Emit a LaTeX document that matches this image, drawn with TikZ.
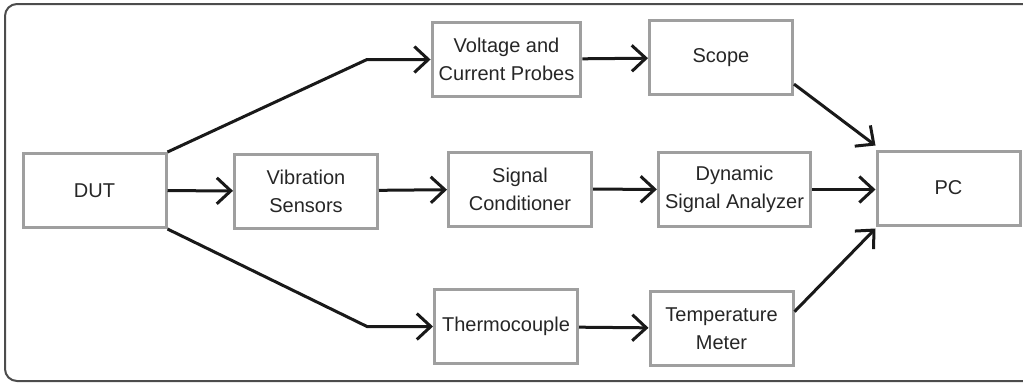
\documentclass[tikz,border=0pt]{standalone}
\usepackage{fontspec}
\setmainfont{Liberation Sans}
\usetikzlibrary{arrows.meta,calc}

\begin{document}
\begin{tikzpicture}[x=0.5pt,y=-0.5pt,
  block/.style={draw=gray!75,line width=1.5pt,minimum width=71.5pt,minimum height=37pt,
    align=center,font=\fontsize{10}{14}\selectfont,text=black!85},
  flow/.style={-{Straight Barb[length=7pt,width=13pt]},line width=1.5pt,black!90},
  frame/.style={draw=black!70,line width=1pt,rounded corners=6pt}
]
\useasboundingbox (0,0) rectangle (1023,382);
% Outer frame (right edge runs off the page)
\draw[frame] (1040,4) -- (5,4) -- (5,381) -- (1040,381);

% Blocks
\node[block] (dut)    at (94.5,190.5) {DUT};
\node[block] (vib)    at (306,191)    {Vibration\\Sensors};
\node[block] (probes) at (506.5,59.5) {Voltage and\\Current Probes};
\node[block] (scope)  at (721,57.5)   {Scope};
\node[block] (cond)   at (520,189)    {Signal\\Conditioner};
\node[block] (dsa)    at (734.5,189.5){Dynamic\\Signal Analyzer};
\node[block] (pc)     at (948.5,188)  {PC};
\node[block] (thermo) at (506,326.5)  {Thermocouple};
\node[block] (tmeter) at (721.5,328.5){Temperature\\Meter};

% Bend points
\coordinate (bendup) at (367,59.5);
\coordinate (benddn) at (367,326.5);

% Connections
\draw[flow] (dut.north east) -- (bendup) -- (probes.west);
\draw[flow] (dut) -- (vib);
\draw[flow] (dut.south east) -- (benddn) -- (thermo.west);
\draw[flow] (probes) -- (scope);
\draw[flow] (vib) -- (cond);
\draw[flow] (cond) -- (dsa);
\draw[flow] (thermo) -- (tmeter);
\draw[flow] (dsa.east) -- (dsa.east -| pc.west);
\draw[flow] (scope.-20) -- ($(pc.north west)+(0,-4)$);
\draw[flow] (tmeter.13) -- ($(pc.south west)+(0,2)$);
\end{tikzpicture}
\end{document}
